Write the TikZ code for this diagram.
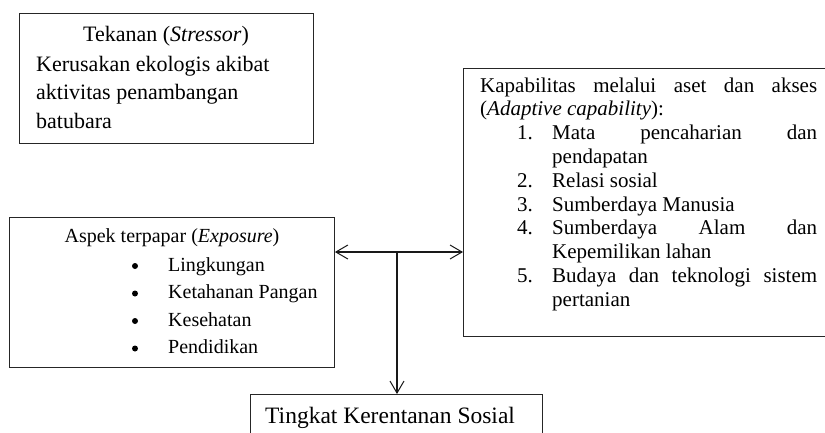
\documentclass[tikz,border=0pt]{standalone}
\usepackage{fontspec}
\setmainfont{Liberation Serif}
\usetikzlibrary{arrows.meta}
\begin{document}
\begin{tikzpicture}[x=1pt,y=-1pt,
  box/.style={draw=black!85, line width=0.9pt, rectangle, inner sep=0pt, anchor=north west},
  lbl/.style={anchor=base west, inner sep=0pt, text=black},
  fa/.style={lbl, font=\fontsize{22}{24}\selectfont},
  fb/.style={lbl, font=\fontsize{21}{22}\selectfont},
  fc/.style={lbl, font=\fontsize{20}{22}\selectfont},
  fd/.style={lbl, font=\fontsize{23.5}{26}\selectfont},
  dot/.style={circle, fill=black, inner sep=0pt, minimum size=6pt},
  arr/.style={line width=1.1pt, draw=black!90, -{Straight Barb[length=12pt,width=14pt,line width=1pt]}}
]
\useasboundingbox (0,0) rectangle (825,432);
\clip (0,0) rectangle (825,432);

% boxes
\node[box, minimum width=294pt, minimum height=130pt] (stress) at (19,13) {};
\node[box, minimum width=372pt, minimum height=268pt] (cap) at (463,68) {};
\node[box, minimum width=325pt, minimum height=150pt] (expo) at (9,217) {};
\node[box, minimum width=292pt, minimum height=60pt] (res) at (250,394) {};

% stressor text
\node[fa, anchor=base] (s1) at (166,41) {Tekanan (\textit{Stressor})};
\node[fa] (s2) at (36,71) {Kerusakan ekologis akibat};
\node[fa] (s3) at (36,99.5) {aktivitas penambangan};
\node[fa] (s4) at (36,128) {batubara};

% capability text
\node[fb] (c1) at (480,92) {\makebox[337pt][s]{Kapabilitas melalui aset dan akses}};
\node[fb] (c2) at (480,115.8) {(\textit{Adaptive capability}):};
\node[fb] (n1) at (517,139.6) {1.};
\node[fb] (c3) at (552,139.6) {\makebox[265pt][s]{Mata pencaharian dan}};
\node[fb] (c4) at (552,163.4) {pendapatan};
\node[fb] (n2) at (517,187.2) {2.};
\node[fb] (c5) at (552,187.2) {Relasi sosial};
\node[fb] (n3) at (517,211) {3.};
\node[fb] (c6) at (552,211) {Sumberdaya Manusia};
\node[fb] (n4) at (517,234.8) {4.};
\node[fb] (c7) at (552,234.8) {\makebox[265pt][s]{Sumberdaya Alam dan}};
\node[fb] (c8) at (552,258.6) {Kepemilikan lahan};
\node[fb] (n5) at (517,282.4) {5.};
\node[fb] (c9) at (552,282.4) {\makebox[265pt][s]{Budaya dan teknologi sistem}};
\node[fb] (c10) at (552,306.2) {pertanian};

% exposure text
\node[fc, anchor=base] (e0) at (172,242) {Aspek terpapar (\textit{Exposure})};
\node[dot] (d1) at (135,266) {};
\node[fc] (e1) at (168,271) {Lingkungan};
\node[dot] (d2) at (135,293.5) {};
\node[fc] (e2) at (168,298.5) {Ketahanan Pangan};
\node[dot] (d3) at (135,321) {};
\node[fc] (e3) at (168,326) {Kesehatan};
\node[dot] (d4) at (135,348.5) {};
\node[fc] (e4) at (168,353.5) {Pendidikan};

% result text
\node[fd] (r1) at (265,423) {Tingkat Kerentanan Sosial};

% connectors
\coordinate (j) at (397,252);
\draw[arr] (j) -- (j -| expo.east);
\draw[arr] (j) -- (j -| cap.west);
\draw[arr] (j) -- (j |- res.north);
\end{tikzpicture}
\end{document}
